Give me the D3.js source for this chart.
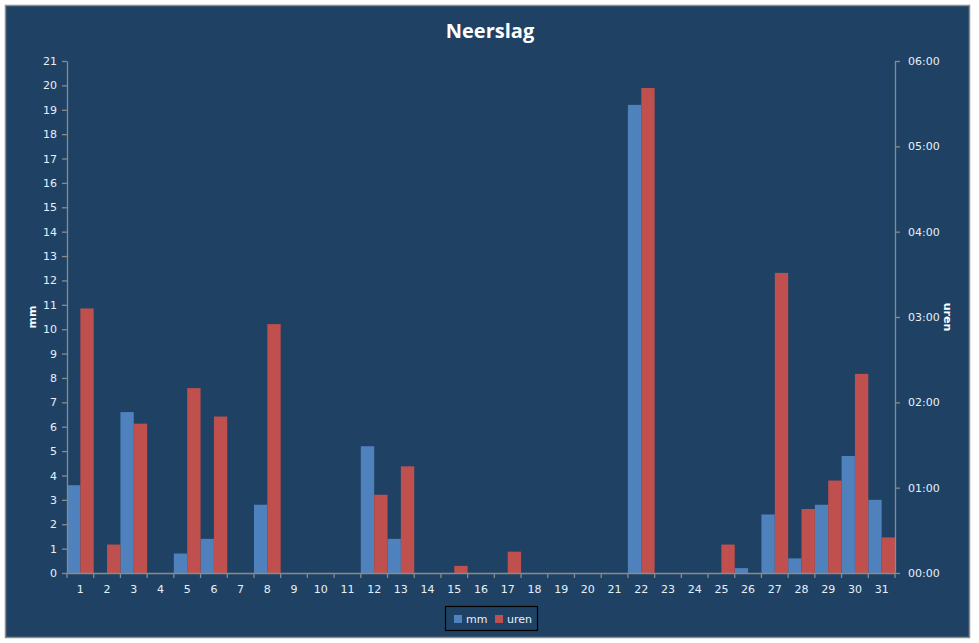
<!DOCTYPE html>
<html><head><meta charset="utf-8">
<script src="https://cdn.jsdelivr.net/npm/d3@7"></script>
<style>body{margin:0;background:#fff}svg{display:block}</style>
</head><body>
<svg id="c" width="979" height="643"></svg>
<script>
const days = d3.range(1, 32).map(String);
const mm = [3.6,0,6.6,0,0.8,1.4,0,2.8,0,0,0,5.2,1.4,0,0,0,0,0,0,0,0,19.2,0,0,0,0.2,2.4,0.6,2.8,4.8,3.0];
// uren in minutes
const urenMin = [186,20,105,0,130,110,0,175,0,0,0,55,75,0,5,0,15,0,0,0,0,341,0,0,20,0,211,45,65,140,25];
const mmTicks = d3.range(0, 22);
const urenTicks = [0,60,120,180,240,300,360];
const seriesNames = ["mm","uren"];
const colors = ["#4F81BD","#C0504D"];

const svg = d3.select("#c");
const bg = "#1F4264", txt = "#E6F0FA", axc = "#8A8A8A";
svg.append("rect").attr("x",5.5).attr("y",5.5).attr("width",964).attr("height",632)
  .attr("fill",bg).attr("stroke","#8c8c8c").attr("stroke-width",1.5);

const L=67, R=895, T=61, B=573;
const x = d3.scaleBand().domain(days).range([L,R]).padding(0);
const xs = d3.scaleBand().domain(seriesNames).range([0,x.bandwidth()]).padding(0);
const yL = d3.scaleLinear().domain([0,21]).range([B,T]);
const yR = d3.scaleLinear().domain([0,360]).range([B,T]);

const g = svg.append("g");
g.selectAll(".mm").data(days).enter().append("rect")
  .attr("x",(d)=>x(d)+xs("mm")).attr("width",xs.bandwidth())
  .attr("y",(d,i)=>yL(mm[i])).attr("height",(d,i)=>B-yL(mm[i])).attr("fill",colors[0]);
g.selectAll(".ur").data(days).enter().append("rect")
  .attr("x",(d)=>x(d)+xs("uren")).attr("width",xs.bandwidth())
  .attr("y",(d,i)=>yR(urenMin[i])).attr("height",(d,i)=>B-yR(urenMin[i])).attr("fill",colors[1]);

const font = "DejaVu Sans, Verdana, sans-serif";
function style(sel){
  sel.select(".domain").attr("stroke",axc).attr("stroke-width",1.3);
  sel.selectAll(".tick line").attr("stroke",axc).attr("stroke-width",1.3);
  sel.selectAll(".tick text").attr("fill",txt).style("font-family",font).style("font-size","11px");
}
const ax = svg.append("g").attr("transform",`translate(0,${B})`)
  .call(d3.axisBottom(x).tickSize(0).tickSizeOuter(0).tickPadding(12));
style(ax);
// boundary ticks
const bounds = days.map(d=>x(d)).concat([R]);
ax.selectAll(".bt").data(bounds).enter().append("line")
  .attr("x1",d=>d).attr("x2",d=>d).attr("y1",0).attr("y2",5).attr("stroke",axc).attr("stroke-width",1.3);

const ayl = svg.append("g").attr("transform",`translate(${L},0)`)
  .call(d3.axisLeft(yL).tickValues(mmTicks).tickSize(5).tickSizeOuter(0).tickPadding(5));
style(ayl);
const fmt = m => String(Math.floor(m/60)).padStart(2,"0")+":"+String(m%60).padStart(2,"0");
const ayr = svg.append("g").attr("transform",`translate(${R},0)`)
  .call(d3.axisRight(yR).tickValues(urenTicks).tickFormat(fmt).tickSize(5).tickSizeOuter(0).tickPadding(8));
style(ayr);

svg.append("text").attr("x",490).attr("y",38).attr("text-anchor","middle")
  .attr("fill","#fff").style("font-family","Open Sans, sans-serif").style("font-weight","bold").style("font-size","20px").text("Neerslag");
svg.append("text").attr("transform","translate(36,317) rotate(-90)").attr("text-anchor","middle")
  .attr("fill","#fff").style("font-family",font).style("font-weight","bold").style("font-size","11px").text("mm");
svg.append("text").attr("transform","translate(944,317) rotate(90)").attr("text-anchor","middle")
  .attr("fill","#fff").style("font-family",font).style("font-weight","bold").style("font-size","11px").text("uren");

// legend
const lg = svg.append("g");
lg.append("rect").attr("x",445.5).attr("y",606.5).attr("width",92).attr("height",24)
  .attr("fill","none").attr("stroke","#000").attr("stroke-width",1.2);
const items = [{n:"mm",x:454},{n:"uren",x:495}];
items.forEach((it,i)=>{
  lg.append("rect").attr("x",it.x).attr("y",615).attr("width",8).attr("height",8).attr("fill",colors[i]);
  lg.append("text").attr("x",it.x+12).attr("y",623).attr("fill",txt)
    .style("font-family",font).style("font-size","11px").text(it.n);
});
</script>
</body></html>
